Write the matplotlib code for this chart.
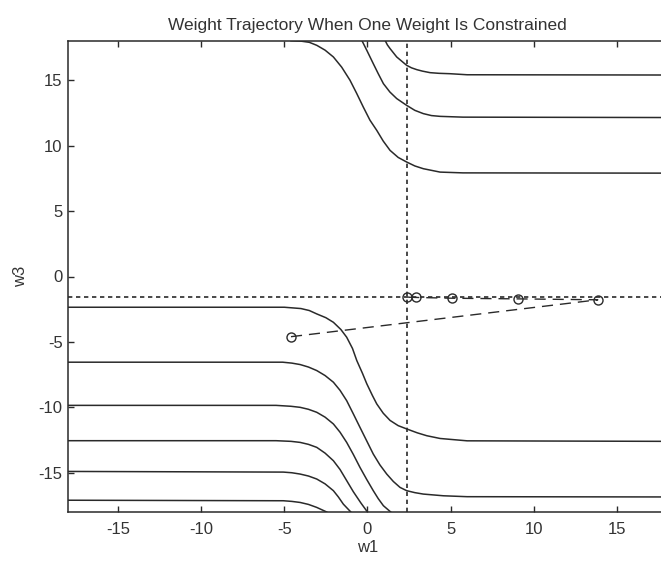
import matplotlib
matplotlib.use("Agg")
import matplotlib.pyplot as plt

plt.rcParams['font.family'] = ['Liberation Sans', 'DejaVu Sans']
plt.rcParams['axes.unicode_minus'] = False

# ---- data ----
title = "Weight Trajectory When One Weight Is Constrained"
xlabel = "w1"
ylabel = "w3"
ticks = [-15, -10, -5, 0, 5, 10, 15]
lims = (-18, 18)

# contour curves (w1, w3)
u1_w1 = [1.06, 1.2, 1.36, 1.76, 2.36, 2.65, 2.97, 3.3, 3.77, 4.3, 4.97, 6.0, 18.0]
u1_w3 = [18.05, 17.7, 17.42, 16.78, 16.14, 15.95, 15.81, 15.7, 15.58, 15.53, 15.5, 15.42, 15.4]

u2_w1 = [-0.34, -0.04, 0.35, 0.65, 0.96, 1.35, 1.76, 2.36, 2.85, 3.36, 3.85, 4.37, 5.75, 18.0]
u2_w3 = [18.05, 17.29, 16.27, 15.5, 14.74, 14.1, 13.6, 13.08, 12.7, 12.45, 12.3, 12.24, 12.18, 12.15]

u3_w1 = [-4.6, -4.0, -3.5, -3.05, -2.55, -2.05, -1.55, -1.05, -0.65, -0.25, 0.15, 0.56, 0.95,
         1.36, 1.85, 2.36, 2.85, 3.36, 4.37, 5.75, 18.0]
u3_w3 = [18.02, 17.99, 17.9, 17.67, 17.3, 16.78, 16.0, 15.0, 14.0, 12.95, 11.95, 11.17, 10.35,
         9.64, 9.1, 8.75, 8.45, 8.24, 7.98, 7.92, 7.9]

l1_w1 = [-18.0, -5.0, -4.0, -3.5, -3.05, -2.5, -2.05, -1.6, -1.25, -0.9, -0.64, -0.3, -0.04,
         0.3, 0.56, 0.95, 1.36, 1.85, 2.36, 3.0, 3.57, 4.37, 5.0, 6.0, 18.0]
l1_w3 = [-2.35, -2.35, -2.45, -2.6, -2.86, -3.15, -3.5, -4.05, -4.64, -5.5, -6.43, -7.4, -8.2,
         -9.1, -9.74, -10.45, -11.0, -11.4, -11.65, -11.95, -12.17, -12.38, -12.45, -12.56, -12.6]

l2_w1 = [-18.0, -5.1, -4.55, -4.05, -3.55, -3.05, -2.55, -2.05, -1.65, -1.25, -0.85, -0.45,
         -0.05, 0.35, 0.75, 1.16, 1.56, 1.96, 2.36, 2.85, 3.36, 4.57, 6.0, 18.0]
l2_w3 = [-6.55, -6.55, -6.62, -6.73, -6.92, -7.19, -7.57, -8.08, -8.7, -9.49, -10.5, -11.53,
         -12.55, -13.57, -14.4, -15.1, -15.67, -16.12, -16.37, -16.52, -16.63, -16.76, -16.83, -16.85]

l3_w1 = [-18.0, -5.5, -4.6, -4.05, -3.55, -3.05, -2.55, -2.05, -1.65, -1.25, -0.85, -0.45,
         -0.05, 0.35, 0.65, 0.96, 1.4]
l3_w3 = [-9.85, -9.85, -9.92, -10.0, -10.15, -10.38, -10.75, -11.27, -11.9, -12.68, -13.6, -14.59,
         -15.5, -16.37, -16.98, -17.52, -18.0]

l4_w1 = [-18.0, -5.5, -4.6, -4.05, -3.55, -3.05, -2.55, -2.05, -1.65, -1.25, -0.85, -0.4, 0.0]
l4_w3 = [-12.55, -12.55, -12.6, -12.68, -12.83, -13.06, -13.5, -14.08, -14.75, -15.6, -16.45, -17.3, -18.0]

l5_w1 = [-18.0, -5.06, -4.55, -4.05, -3.55, -3.05, -2.55, -2.05, -1.75, -1.45, -1.0]
l5_w3 = [-14.9, -14.95, -15.0, -15.1, -15.25, -15.48, -15.85, -16.37, -16.85, -17.4, -18.0]

l6_w1 = [-18.0, -5.06, -4.55, -4.05, -3.55, -3.05, -2.45]
l6_w3 = [-17.1, -17.14, -17.19, -17.27, -17.42, -17.65, -18.0]

# constraint lines
w1_const = 2.4
w3_const = -1.58

# trajectory
traj_w1 = [-4.6, 13.86, 9.04, 5.07, 2.9, 2.4]
traj_w3 = [-4.6, -1.78, -1.71, -1.66, -1.6, -1.58]

# ---- drawing ----
fig = plt.figure(figsize=(6.61, 5.66), dpi=100)
ax = fig.add_axes([68.3 / 661, (566 - 512) / 566, (666.6 - 68.3) / 661, (512 - 41) / 566])

ink = '#2a2a2a'
curves = [(u1_w1, u1_w3), (u2_w1, u2_w3), (u3_w1, u3_w3),
          (l1_w1, l1_w3), (l2_w1, l2_w3), (l3_w1, l3_w3),
          (l4_w1, l4_w3), (l5_w1, l5_w3), (l6_w1, l6_w3)]
for cx, cy in curves:
    ax.plot(cx, cy, color=ink, lw=1.1, solid_joinstyle='round')

ax.axvline(w1_const, color=ink, lw=1.2, linestyle=(0, (2.6, 2.2)))
ax.axhline(w3_const, color=ink, lw=1.2, linestyle=(0, (2.6, 2.2)))

ax.plot(traj_w1, traj_w3, color=ink, lw=1.0, linestyle=(0, (8, 5)),
        marker='o', markersize=6.5, markerfacecolor='none', markeredgecolor=ink,
        markeredgewidth=1.0)

ax.set_xlim(*lims)
ax.set_ylim(*lims)
ax.set_xticks(ticks)
ax.set_yticks(ticks)
ax.tick_params(direction='in', top=True, right=True, length=4, width=1.0,
               color=ink, labelcolor='#333333', labelsize=12)
ax.tick_params(axis='x', pad=7)
ax.tick_params(axis='y', pad=4)
for s in ax.spines.values():
    s.set_color(ink)
    s.set_linewidth(1.1)

ax.set_title(title, fontsize=12.5, color='#333333', pad=8)
ax.set_xlabel(xlabel, fontsize=12, color='#333333', labelpad=2)
ax.set_ylabel(ylabel, fontsize=12, color='#333333', labelpad=8)

fig.savefig("out.png", dpi=100)
